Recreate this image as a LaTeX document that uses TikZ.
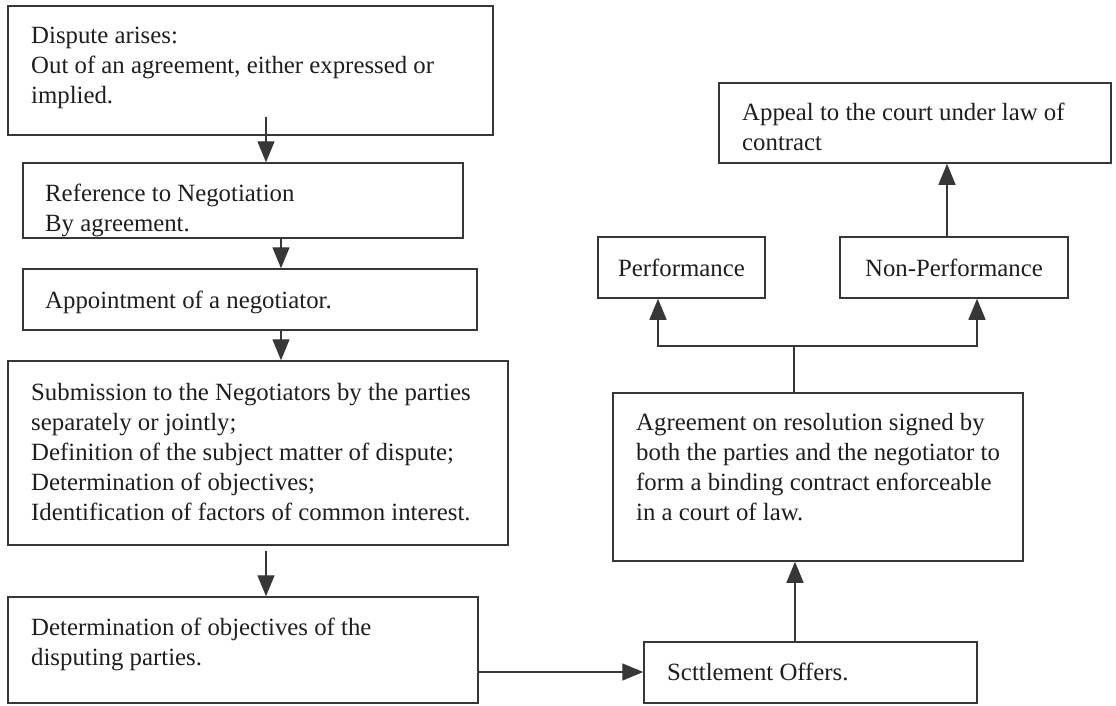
\documentclass[tikz,border=0pt]{standalone}
\usepackage{fontspec}
\setmainfont{Liberation Serif}
\usetikzlibrary{arrows.meta,calc,fit}
\definecolor{ink}{RGB}{30,30,30}
\definecolor{edge}{RGB}{55,55,55}
\tikzset{
  box/.style={draw=edge, line width=1.5pt, rectangle, inner sep=0pt},
  txt/.style={text=ink, font=\fontsize{24.8}{30}\selectfont, inner sep=0pt, align=left, anchor=base west},
  arr/.style={draw=edge, line width=1.4pt, -{Triangle[length=21pt,width=17pt]}},
  ln/.style={draw=edge, line width=1.4pt},
}
\begin{document}
\begin{tikzpicture}[x=1pt,y=-1pt]
\useasboundingbox (0,0) rectangle (1116,705);
% left column boxes
\node[box, fit={(8,6) (493,135)}] (b1) {};
\node[box, fit={(23,163) (463,238)}] (b2) {};
\node[box, fit={(23,269) (477,330)}] (b3) {};
\node[box, fit={(8,361) (508,545)}] (b4) {};
\node[box, fit={(8,597) (478,703)}] (b5) {};
% right column boxes
\node[box, fit={(644,642) (977,703)}] (set) {};
\node[box, fit={(613,393) (1023,561)}] (agr) {};
\node[box, fit={(598,237) (765,298)}] (perf) {};
\node[box, fit={(840,237) (1068,298)}] (nonp) {};
\node[box, fit={(719,83) (1111,163)}] (appeal) {};
% texts (anchored at the baseline of the last line)
\node[txt] (b1t) at (31,103) {Dispute arises:\\Out of an agreement, either expressed or\\implied.};
\node[txt] (b2t) at (45,231) {Reference to Negotiation\\By agreement.};
\node[txt] (b3t) at (45,308) {Appointment of a negotiator.};
\node[txt] (b4t) at (31,520) {Submission to the Negotiators by the parties\\separately or jointly;\\Definition of the subject matter of dispute;\\Determination of objectives;\\Identification of factors of common interest.};
\node[txt] (b5t) at (31,665) {Determination of objectives of the\\disputing parties.};
\node[txt] (sett) at (667,680) {Scttlement Offers.};
\node[txt] (agrt) at (636,520) {Agreement on resolution signed by\\both the parties and the negotiator to\\form a binding contract enforceable\\in a court of law.};
\node[txt, anchor=center] (perft) at (perf.center) {Performance};
\node[txt, anchor=center] (nonpt) at (nonp.center) {Non-Performance};
\node[txt] (appealt) at (742,150) {Appeal to the court under law of\\contract};
% helper coordinates
\coordinate (xa) at (266,0);
\coordinate (xb) at (281,0);
\coordinate (xc) at (795,0);
\coordinate (xp) at (658,0);
\coordinate (xn) at (977,0);
\coordinate (xq) at (947,0);
\coordinate (ya) at (0,672);
\coordinate (jn) at (794,346);
% connectors
\draw[arr] ($(b1.south -| xa)+(0,-19)$) -- (b2.north -| xa);
\draw[arr] (b2.south -| xb) -- (b3.north -| xb);
\draw[arr] (b3.south -| xb) -- (b4.north -| xb);
\draw[arr] ($(b4.south -| xa)+(0,5)$) -- (b5.north -| xa);
\draw[arr] (b5.east |- ya) -- (set.west |- ya);
\draw[arr] (set.north -| xc) -- (agr.south -| xc);
\draw[ln] (agr.north -| jn) -- (jn);
\draw[arr] (jn) -| (perf.south -| xp);
\draw[arr] (jn) -| (nonp.south -| xn);
\draw[arr] (nonp.north -| xq) -- (appeal.south -| xq);
\end{tikzpicture}
\end{document}
